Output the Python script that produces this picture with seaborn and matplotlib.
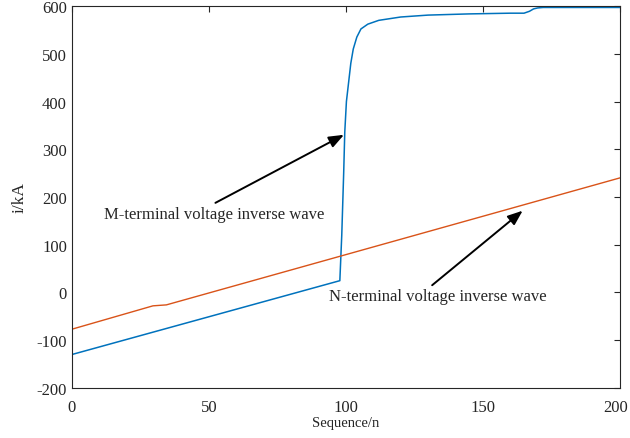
import matplotlib
matplotlib.use("Agg")
import matplotlib.pyplot as plt
import matplotlib.transforms as mtransforms
import seaborn as sns
import pandas as pd

# Data
m_x = [0, 97.8, 98.5, 99.2, 99.6, 100.2, 101, 101.8, 102.7, 104, 105.5, 108, 112, 120, 130, 145, 160, 165, 167, 168.5, 170, 172, 200]
m_y = [-130, 24.7, 120, 250, 336, 400, 440, 480, 510, 535, 552, 562, 570, 577, 581, 583.5, 585, 585, 589, 594, 596, 597, 597]
n_x = [0, 29.6, 34.5, 200]
n_y = [-77, -28, -26, 240]

x_ticks = [0, 50, 100, 150, 200]
y_ticks = [-200, -100, 0, 100, 200, 300, 400, 500, 600]

sns.set_style("white")
plt.rcParams['font.family'] = ['Liberation Serif', 'DejaVu Serif']
plt.rcParams['axes.unicode_minus'] = False

fig = plt.figure(figsize=(6.3, 4.39), dpi=100)
ax = fig.add_axes([0.114, 0.114, 0.870, 0.870])

dm = pd.DataFrame({"x": m_x, "y": m_y})
dn = pd.DataFrame({"x": n_x, "y": n_y})
sns.lineplot(data=dm, x="x", y="y", ax=ax, color="#0072BD", lw=1.1, sort=False)
sns.lineplot(data=dn, x="x", y="y", ax=ax, color="#D95319", lw=1.0, sort=False)

ax.set_xlim(0, 200)
ax.set_ylim(-200, 600)
ax.set_xticks(x_ticks)
ax.set_yticks(y_ticks)
ax.tick_params(direction="in", top=True, right=True, labelsize=12, length=4, width=0.8, colors="#262626")
ax.tick_params(axis="x", pad=8)
for s in ax.spines.values():
    s.set_color("#262626")
    s.set_linewidth(0.8)
ax.set_xlabel("Sequence/n", fontsize=10.5, labelpad=1)
ax.set_ylabel("i/kA", fontsize=12.5, labelpad=6)

# nudge the last x tick label inward so it stays inside the figure
last = ax.get_xticklabels()[-1]
last.set_transform(last.get_transform() + mtransforms.ScaledTranslation(-4 / 100, 0, fig.dpi_scale_trans))

ax.annotate("", xy=(100.2, 333), xytext=(51.5, 185),
            arrowprops=dict(arrowstyle="-|>,head_length=0.9,head_width=0.35", color="black", lw=1.4))
ax.text(11.7, 164, "M-terminal voltage inverse wave", fontsize=12, va="center", ha="left")
ax.annotate("", xy=(165.3, 175), xytext=(130.7, 11.5),
            arrowprops=dict(arrowstyle="-|>,head_length=0.9,head_width=0.35", color="black", lw=1.4))
ax.text(93.8, -7, "N-terminal voltage inverse wave", fontsize=12, va="center", ha="left")

fig.savefig("out.png", dpi=100)
